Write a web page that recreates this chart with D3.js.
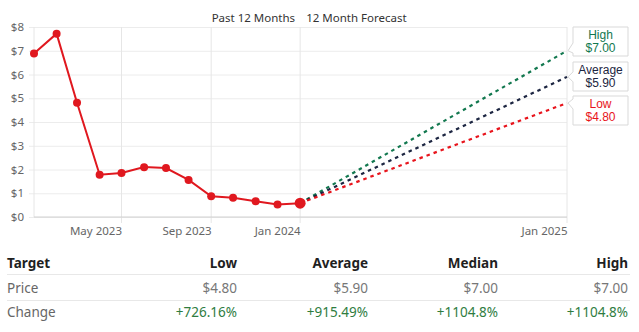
<!DOCTYPE html>
<html>
<head>
<meta charset="utf-8">
<script src="https://cdn.jsdelivr.net/npm/d3@7"></script>
<style>
  html, body { margin: 0; padding: 0; background: #fff; }
  svg { display: block; font-family: "Noto Sans", "Open Sans", sans-serif; }
</style>
</head>
<body>
<svg id="chart" width="639" height="332"></svg>
<script>
// Monthly closing prices over the past year
const pastDates = ["2023-01-01","2023-02-01","2023-03-01","2023-04-01","2023-05-01","2023-06-01",
  "2023-07-01","2023-08-01","2023-09-01","2023-10-01","2023-11-01","2023-12-01","2024-01-01"];
const pastPrices = [6.88, 7.72, 4.81, 1.78, 1.85, 2.10, 2.06, 1.56, 0.87, 0.81, 0.66, 0.53, 0.581];

// Analyst price targets twelve months out
const forecastEnd = "2025-01-01";
const targetNames = ["High", "Average", "Low"];
const targetValues = [7.00, 5.90, 4.80];
const targetColors = ["#12784f", "#1c2541", "#e8141c"];

// Y axis ticks and X axis tick dates
const yTicks = [0, 1, 2, 3, 4, 5, 6, 7, 8];
const xTickDates = ["2023-05-01", "2023-09-01", "2024-01-01", "2025-01-01"];

// Summary table
const tableColumns = ["Target", "Low", "Average", "Median", "High"];
const priceRow = ["Price", "$4.80", "$5.90", "$7.00", "$7.00"];
const changeRow = ["Change", "+726.16%", "+915.49%", "+1104.8%", "+1104.8%"];

const parse = d3.timeParse("%Y-%m-%d");
const svg = d3.select("#chart");
const m = { left: 34, right: 567, top: 27, bottom: 217 };

const x = d3.scaleTime()
  .domain([parse(pastDates[0]), parse(forecastEnd)])
  .range([m.left, m.right]);
const y = d3.scaleLinear().domain([0, 8]).range([m.bottom, m.top]);

// Horizontal gridlines + y labels
const yAxis = d3.axisLeft(y).tickValues(yTicks).tickFormat(d => "$" + d)
  .tickSize(-(m.right - m.left) - 5).tickPadding(5);
const gy = svg.append("g").attr("transform", `translate(${m.left - 5},0)`).call(yAxis);
gy.select(".domain").remove();
gy.selectAll(".tick line").attr("stroke", "#ececec");
gy.selectAll(".tick text").attr("fill", "#666").attr("font-size", 11.5)
  .attr("font-family", "Noto Sans, sans-serif");

// Vertical gridlines at the labelled dates
const xTicks = xTickDates.map(parse);
svg.append("g").selectAll("line").data(xTicks).join("line")
  .attr("x1", d => x(d)).attr("x2", d => x(d))
  .attr("y1", m.top).attr("y2", m.bottom + 6)
  .attr("stroke", "#e6e6e6");
svg.append("line").attr("x1", m.left).attr("x2", m.left)
  .attr("y1", m.top).attr("y2", m.bottom).attr("stroke", "#e6e6e6");
svg.append("line").attr("x1", m.left).attr("x2", m.right)
  .attr("y1", m.bottom).attr("y2", m.bottom).attr("stroke", "#d0d0d0");

const xAxis = d3.axisBottom(x).tickValues(xTicks).tickFormat(d3.timeFormat("%b %Y"))
  .tickSize(0).tickPadding(10);
const gx = svg.append("g").attr("transform", `translate(0,${m.bottom})`).call(xAxis);
gx.select(".domain").remove();
gx.selectAll(".tick text").attr("text-anchor", "end").attr("fill", "#666")
  .attr("font-size", 11.5).attr("font-family", "Noto Sans, sans-serif");

// Section headings
const splitX = x(parse(pastDates[pastDates.length - 1]));
svg.append("text").attr("x", splitX - 5).attr("y", 22).attr("text-anchor", "end")
  .attr("font-size", 11.5).attr("fill", "#333").text("Past 12 Months");
svg.append("text").attr("x", splitX + 6).attr("y", 22).attr("text-anchor", "start")
  .attr("font-size", 11.5).attr("fill", "#333").text("12 Month Forecast");

// Forecast lines
const lastDate = parse(pastDates[pastDates.length - 1]);
const lastPrice = pastPrices[pastPrices.length - 1];
targetValues.forEach((v, i) => {
  svg.append("line")
    .attr("x1", x(lastDate)).attr("y1", y(lastPrice))
    .attr("x2", x(parse(forecastEnd))).attr("y2", y(v))
    .attr("stroke", targetColors[i]).attr("stroke-width", 2.2)
    .attr("stroke-dasharray", "3.5,4");
});

// Price history line and markers
const pts = pastDates.map((d, i) => ({ date: parse(d), value: pastPrices[i] }));
svg.append("path").datum(pts)
  .attr("fill", "none").attr("stroke", "#e0181f").attr("stroke-width", 2)
  .attr("d", d3.line().x(d => x(d.date)).y(d => y(d.value)));
svg.append("g").selectAll("circle").data(pts).join("circle")
  .attr("cx", d => x(d.date)).attr("cy", d => y(d.value))
  .attr("r", (d, i) => i === pts.length - 1 ? 5.5 : 4)
  .attr("fill", "#e0181f");

// Target callouts
const boxX = 573, boxW = 55, boxH = 29;
const boxTops = [27, 62, 96];
targetValues.forEach((v, i) => {
  const ty = y(v);
  const top = boxTops[i];
  const mid = Math.min(Math.max(ty, top + 8), top + boxH - 8);
  const path = `M${boxX},${top} H${boxX + boxW} V${top + boxH} H${boxX} V${mid + 5} L${m.right + 1},${ty} L${boxX},${mid - 5} Z`;
  svg.append("path").attr("d", path).attr("fill", "#fff")
    .attr("stroke", "#d9d9d9").attr("stroke-width", 1);
  const cx = boxX + boxW / 2;
  const style = t => t.attr("text-anchor", "middle").attr("font-size", 12)
    .attr("font-family", "Liberation Sans, Arial, sans-serif").attr("fill", targetColors[i]);
  svg.append("text").call(style).attr("x", cx).attr("y", top + 12).text(targetNames[i]);
  svg.append("text").call(style).attr("x", cx).attr("y", top + 25).text("$" + v.toFixed(2));
});

// Summary table
const colX = [7, 237, 368, 498, 628];
const rowY = [268, 293, 317];
const table = svg.append("g").attr("font-size", 13.5);
tableColumns.forEach((c, j) => {
  table.append("text").attr("x", colX[j]).attr("y", rowY[0])
    .attr("text-anchor", j === 0 ? "start" : "end")
    .attr("font-weight", "bold").attr("fill", "#1f1f1f").text(c);
});
[priceRow, changeRow].forEach((row, r) => {
  row.forEach((c, j) => {
    table.append("text").attr("x", colX[j]).attr("y", rowY[r + 1])
      .attr("text-anchor", j === 0 ? "start" : "end")
      .attr("fill", j === 0 ? "#666" : (r === 0 ? "#777" : "#2f7d3f"))
      .text(c);
  });
});
[274.5, 300.5].forEach(ly => {
  table.append("line").attr("x1", 7).attr("x2", 630).attr("y1", ly).attr("y2", ly)
    .attr("stroke", "#e8e8e8");
});
</script>
</body>
</html>
